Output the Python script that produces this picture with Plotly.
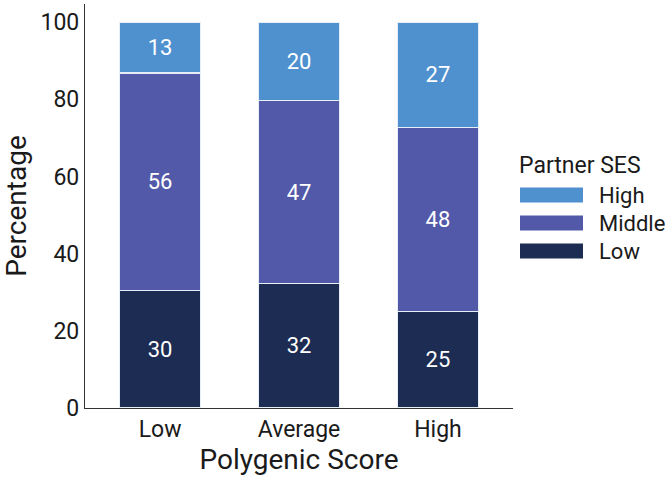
import plotly.graph_objects as go

# polygenic score groups on the x axis
groups = ["Low", "Average", "High"]

# partner SES shares (%) per group
ses_low = [30.4, 32.2, 25.1]
ses_middle = [56.4, 47.4, 47.6]
ses_high = [13.2, 20.4, 27.3]

series_names = ["Low", "Middle", "High"]
colors = {"Low": "#1c2c52", "Middle": "#5359a9", "High": "#4f90cf"}

FONT = "Roboto, sans-serif"

# plot area in pixels (used to place the hand-drawn legend)
L, R, T, B = 85, 513, 4, 408


def px_x(x):
    return (x - L) / (R - L)


def px_y(y):
    return (B - y) / (B - T)


def make_figure():
    fig = go.Figure()

    for name, vals in zip(series_names, [ses_low, ses_middle, ses_high]):
        fig.add_trace(go.Bar(
            x=groups, y=vals, name=name,
            marker=dict(color=colors[name], line=dict(color="#e8eef8", width=1.2)),
            texttemplate="%{y:.0f}", textposition="inside", insidetextanchor="middle",
            textfont=dict(color="white", size=22, family=FONT),
            showlegend=False,
        ))

    fig.update_layout(
        barmode="stack", bargap=0.42,
        width=665, height=482,
        margin=dict(l=L, r=665 - R, t=T, b=482 - B),
        paper_bgcolor="white", plot_bgcolor="white",
        font=dict(family=FONT, size=23, color="#1a1a1a"),
        xaxis=dict(range=[-0.54, 2.54], showline=True, linecolor="#333333", linewidth=1.3,
                   ticks="", title=dict(text="Polygenic Score", standoff=6), showgrid=False),
        yaxis=dict(range=[0, 104.7], showline=True, linecolor="#333333", linewidth=1.3,
                   ticks="", tickvals=[0, 20, 40, 60, 80, 100], showgrid=False, zeroline=False,
                   title=dict(text="Percentage", standoff=9)),
    )

    # legend drawn by hand so the swatches can be wide bars
    fig.add_annotation(x=px_x(517), y=px_y(165), xref="paper", yref="paper", text="Partner SES",
                       showarrow=False, xanchor="left", yanchor="middle")
    for i, name in enumerate(["High", "Middle", "Low"]):
        yc = 195 + i * 28
        fig.add_shape(type="rect", xref="paper", yref="paper",
                      x0=px_x(520), x1=px_x(583), y0=px_y(yc - 7.5), y1=px_y(yc + 7.5),
                      fillcolor=colors[name], line=dict(width=0))
        fig.add_annotation(x=px_x(597), y=px_y(yc), xref="paper", yref="paper",
                           text=name, showarrow=False, xanchor="left", yanchor="middle",
                           font=dict(size=22))
    return fig


fig = make_figure()
# drop the default 8px body margin so the figure sits at the window's corner
fig.write_html("out.html", config={"displayModeBar": False},
               post_script="document.body.style.margin = '0';")
